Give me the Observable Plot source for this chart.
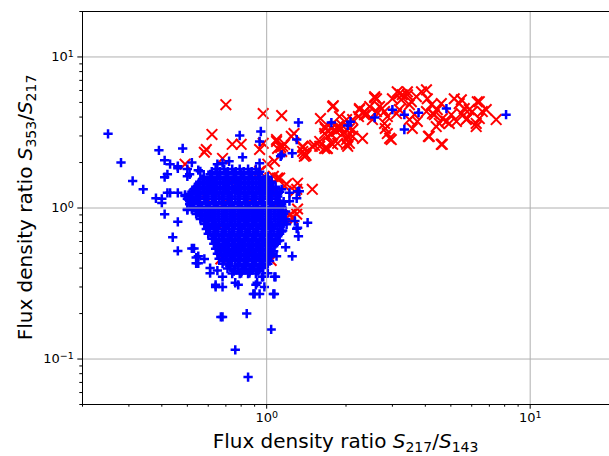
<!DOCTYPE html>
<html><head><meta charset="utf-8">
<script src="https://cdn.jsdelivr.net/npm/d3@7"></script>
<script src="https://cdn.jsdelivr.net/npm/@observablehq/plot@0.6"></script>
<style>body{margin:0;background:#fff;} svg{display:block;}</style>
</head><body><div id="chart"></div>
<script>
// Scattered blue (+) sources: [S217/S143, S353/S217]
const blueScatter = [
[0.25,3.10],[0.28,2.0],[0.31,1.51],[0.34,1.33],[0.38,1.16],[0.40,1.08],[0.41,0.91],[0.44,0.64],[0.46,0.52],[0.46,0.81],
[0.39,2.41],[0.48,2.48],[0.41,2.07],[0.41,1.60],[0.42,1.67],[0.46,1.83],[0.52,2.0],[0.55,1.78],[0.40,1.15],[0.42,1.26],
[0.46,1.26],[0.49,1.22],[0.53,1.13],[0.50,0.97],[0.53,0.54],[0.54,0.47],[0.58,0.46],[0.55,0.43],[0.61,0.40],[0.61,0.37],
[0.68,0.35],[0.64,0.30],[0.68,0.30],[0.76,0.32],[0.68,0.19],[0.84,0.20],[0.76,0.115],[0.85,0.076],[1.04,0.157],[0.91,0.31],
[0.90,0.27],[0.98,0.30],[1.06,0.27],[1.08,0.35],[0.97,0.35],[1.18,0.55],[1.25,0.48],[1.32,0.65],[1.30,0.73],[1.43,0.80],
[1.31,1.29],[1.22,1.26],[1.14,1.33],[1.13,2.20],[1.25,2.30],[1.30,2.84],[1.32,3.68],[0.95,3.21],[0.94,2.76],[0.79,3.02],
[0.81,2.17],[0.68,1.98],[0.43,1.95],[0.46,1.89],[0.50,1.81],[0.51,1.67],[0.43,1.26],[0.49,1.20],[0.51,1.11],[0.52,0.54],
[0.55,0.48],[0.50,0.985],[0.54,0.96],[0.56,0.89],[0.54,0.43],[0.65,0.385],[0.64,0.31],[0.78,0.31],[0.80,0.37],[0.86,0.37],
[0.92,0.32],[0.89,0.27],[0.94,0.27],[1.07,0.27],[1.07,0.35],[0.96,0.35],[0.97,0.40],[1.01,0.37],[1.09,0.48],[0.67,0.19],
[1.30,1.16],[1.31,0.74],[1.12,0.61],[1.15,0.71],[1.19,0.78],[1.28,0.82],[1.22,1.11],[1.33,1.29],[1.14,2.25],[0.94,1.98],
[0.72,2.04],[0.65,1.95],[0.56,1.75],[0.50,1.62],
[1.76,3.68],[2.08,3.73],[2.03,3.52],[2.57,3.97],[3.0,4.48],[3.33,4.15],[3.33,3.31],[3.77,4.28],[4.81,4.55],[8.1,4.15]
];
// Dense blue core, read row by row: [S353/S217, [S217/S143 ...]]
const blueCoreRows = [
[1.81,[0.64,0.69,0.74,0.79,0.85,0.91]],
[1.74,[0.619,0.664,0.712,0.763,0.818,0.877,0.941]],
[1.67,[0.61,0.65,0.70,0.75,0.80,0.86,0.93]],
[1.61,[0.577,0.619,0.664,0.712,0.763,0.818,0.877,0.941,1.009]],
[1.55,[0.57,0.61,0.65,0.70,0.75,0.80,0.86,0.93,0.99]],
[1.49,[0.557,0.598,0.641,0.687,0.737,0.790,0.847,0.909,0.974,1.045]],
[1.44,[0.55,0.59,0.63,0.68,0.72,0.78,0.83,0.89,0.96,1.03]],
[1.38,[0.538,0.577,0.619,0.664,0.712,0.763,0.818,0.877,0.941,1.009,1.082]],
[1.33,[0.53,0.57,0.61,0.65,0.70,0.75,0.80,0.86,0.93,0.99,1.06]],
[1.28,[0.520,0.557,0.598,0.641,0.687,0.737,0.790,0.847,0.909,0.974,1.045,1.120]],
[1.24,[0.51,0.55,0.59,0.63,0.68,0.72,0.78,0.83,0.89,0.96,1.03,1.10]],
[1.19,[0.511,0.548,0.587,0.630,0.675,0.724,0.777,0.833,0.893,0.957,1.026,1.101]],
[1.15,[0.50,0.54,0.58,0.62,0.66,0.71,0.76,0.82,0.88,0.94,1.01,1.08]],
[1.10,[0.520,0.557,0.598,0.641,0.687,0.737,0.790,0.847,0.909,0.974,1.045,1.120,1.160]],
[1.06,[0.51,0.55,0.59,0.63,0.68,0.72,0.78,0.83,0.89,0.96,1.03,1.10,1.14]],
[1.02,[0.529,0.567,0.608,0.652,0.699,0.750,0.804,0.862,0.925,0.991,1.063,1.140]],
[0.985,[0.52,0.56,0.60,0.64,0.69,0.74,0.79,0.85,0.91,0.97,1.04,1.12]],
[0.948,[0.548,0.587,0.630,0.675,0.724,0.777,0.833,0.893,0.957,1.026,1.101,1.180]],
[0.913,[0.54,0.58,0.62,0.66,0.71,0.76,0.82,0.88,0.94,1.01,1.08,1.16]],
[0.879,[0.567,0.608,0.652,0.699,0.750,0.804,0.862,0.925,0.991,1.063,1.140]],
[0.847,[0.56,0.60,0.64,0.69,0.74,0.79,0.85,0.91,0.97,1.04,1.12,1.18]],
[0.815,[0.587,0.630,0.675,0.724,0.777,0.833,0.893,0.957,1.026,1.101,1.180]],
[0.785,[0.58,0.62,0.66,0.71,0.76,0.82,0.88,0.94,1.01,1.08,1.16]],
[0.756,[0.598,0.641,0.687,0.737,0.790,0.847,0.909,0.974,1.045,1.120]],
[0.727,[0.59,0.63,0.68,0.72,0.78,0.83,0.89,0.96,1.03,1.10]],
[0.700,[0.608,0.652,0.699,0.750,0.804,0.862,0.925,0.991,1.063,1.140]],
[0.675,[0.60,0.64,0.69,0.74,0.79,0.85,0.91,0.97,1.04,1.12]],
[0.649,[0.630,0.675,0.724,0.777,0.833,0.893,0.957,1.026,1.101]],
[0.625,[0.62,0.66,0.71,0.76,0.82,0.88,0.94,1.01,1.08]],
[0.602,[0.641,0.687,0.737,0.790,0.847,0.909,0.974,1.045,1.101]],
[0.580,[0.63,0.68,0.72,0.78,0.83,0.89,0.96,1.03,1.08]],
[0.558,[0.652,0.699,0.750,0.804,0.862,0.925,0.991,1.063]],
[0.537,[0.64,0.69,0.74,0.79,0.85,0.91,0.97,1.04]],
[0.518,[0.664,0.712,0.763,0.818,0.877,0.941,1.009,1.063]],
[0.498,[0.65,0.70,0.75,0.80,0.86,0.93,0.99,1.05]],
[0.480,[0.675,0.724,0.777,0.833,0.893,0.957,1.026]],
[0.462,[0.66,0.71,0.76,0.82,0.88,0.94,1.01]],
[0.445,[0.687,0.737,0.790,0.847,0.909,0.974,1.026]],
[0.428,[0.68,0.72,0.78,0.83,0.89,0.96,1.01]],
[0.412,[0.724,0.777,0.833,0.893,0.957]],
[0.397,[0.71,0.76,0.82,0.88,0.94]],
[0.382,[0.750,0.804,0.862,0.925]],
[0.368,[0.74,0.79,0.85,0.91]]
];
// Red (x) sources
const redPoints = [
[0.70,4.83],[0.97,4.22],[1.14,4.09],[0.62,3.07],[0.59,2.44],[0.58,2.34],[0.74,2.64],[0.80,2.64],[0.97,2.68],[1.09,2.84],
[1.13,2.52],[1.17,2.64],[1.27,3.11],[1.37,2.52],[1.41,2.23],[1.52,2.60],[1.60,3.91],[1.79,4.76],[1.69,2.48],[1.67,3.36],
[1.76,3.07],[1.86,2.68],[1.92,3.36],[2.01,2.64],[2.03,2.98],[2.12,3.31],[2.23,4.03],[2.35,4.35],[2.52,3.85],[2.31,2.89],
[2.57,5.37],[2.74,4.55],[2.93,2.89],[2.82,3.36],[3.19,5.71],[3.42,5.88],[3.54,5.06],[4.04,6.06],[4.11,2.98],[4.64,2.64],
[6.41,5.06],[7.43,3.85],
[1.01,1.95],[1.06,1.62],[1.12,1.58],[1.19,1.44],[1.28,1.29],[1.49,1.33],[1.23,0.91],[1.19,0.86],[1.30,0.91],[1.25,0.86],
[1.31,0.985],[0.67,0.46],[1.04,0.45],[0.49,1.95],[0.68,2.13],[0.94,2.44],[0.94,1.75],[1.03,1.58],[1.39,2.30],[1.15,2.56],
[1.30,1.33],[1.09,2.76],[1.37,2.56],[1.39,2.20],[1.49,2.56],[1.59,2.76],[1.66,2.48],[1.70,2.98],[1.76,3.36],[1.84,3.21],
[1.92,3.57],[1.89,4.03],[2.01,3.85],[2.06,3.36],[2.01,2.84],[2.12,2.98],[2.25,4.55],[2.39,4.15],[2.46,4.69],[2.61,4.35],
[2.68,4.69],[2.57,5.46],[2.80,3.63],[2.87,3.11],[2.97,2.84],[2.80,4.35],[3.11,4.22],[3.00,5.29],[3.13,5.88],[3.27,5.62],
[3.42,5.62],[3.48,4.83],[3.70,5.46],[3.64,4.15],[3.73,3.74],[3.87,5.88],[4.07,5.29],[4.22,4.83],[4.04,4.35],[4.14,2.98],
[4.33,4.15],[4.44,4.48],[4.60,4.91],[4.64,3.91],[4.60,2.64],[4.81,3.74],[5.02,4.15],[5.15,5.29],[5.38,4.91],[5.62,4.55],
[5.77,3.91],[6.03,4.35],[6.30,5.05],[6.41,3.91],[6.58,4.35],[6.24,3.63],[5.25,3.74],[5.48,4.22],[1.24,2.98],[1.10,2.48],
[1.14,2.37],[1.37,2.37],[1.59,2.56],[1.70,2.48],[1.66,3.11],[1.76,2.68],[1.86,3.36],[2.03,2.56],[1.07,2.04],[1.10,1.58],
[1.17,1.40],[1.31,1.46],[5.48,5.21],[5.87,4.48],[6.81,4.48],[4.40,3.46],[4.52,3.63],[4.93,3.63],[5.72,3.85],[6.24,3.46],
[3.48,3.85],[3.19,4.48],[3.57,3.36],[4.26,4.22],[1.78,4.69],[1.66,3.46],[1.86,3.46],[1.94,3.11],[2.12,3.85],[2.25,4.48],
[2.35,4.15],[2.87,4.03],[2.06,2.68],[1.78,2.64],[2.61,5.29],[3.24,5.21],
[0.62,1.30],[0.70,1.10],[0.80,0.95],[0.66,0.75],[0.90,1.20],[0.75,0.60],[0.85,0.70],[0.95,1.40],[0.60,0.90],[0.72,1.50],
[0.88,0.50],[1.00,0.80],[0.68,0.55],[0.58,1.20],[1.08,1.05],[1.12,0.95],[1.05,1.25]
];
const xMajorTicks = [1, 10];
const xMinorTicks = [0.2,0.3,0.4,0.5,0.6,0.7,0.8,0.9,2,3,4,5,6,7,8,9,20];
const yMajorTicks = [0.1, 1, 10];
const yMinorTicks = [0.05,0.06,0.07,0.08,0.09,0.2,0.3,0.4,0.5,0.6,0.7,0.8,0.9,2,3,4,5,6,7,8,9,20];

const blue = blueScatter.concat(blueCoreRows.flatMap(([y, xs]) => xs.map(x => [x, y])));
const expFmt = v => "10^" + Math.round(Math.log10(v));

const plot = Plot.plot({
  width: 609, height: 456,
  marginLeft: 82, marginRight: 0, marginTop: 11, marginBottom: 52,
  style: {fontFamily: "DejaVu Sans", fontSize: "13px", background: "#fff", color: "black"},
  x: {type: "log", domain: [0.2, 20]},
  y: {type: "log", domain: [0.05, 20]},
  marks: [
    Plot.dot(redPoints, {x: d => d[0], y: d => d[1], symbol: "times", r: 4.9, stroke: "#ff0000", strokeWidth: 2}),
    Plot.dot(blue, {x: d => d[0], y: d => d[1], symbol: "plus", r: 3.1, stroke: "#0000ff", strokeWidth: 2.5}),
    Plot.gridX(xMajorTicks, {stroke: "#b0b0b0", strokeOpacity: 1, strokeWidth: 1}),
    Plot.gridY(yMajorTicks, {stroke: "#b0b0b0", strokeOpacity: 1, strokeWidth: 1}),
    Plot.ruleX([0.2], {stroke: "black", strokeWidth: 1}),
    Plot.ruleY([0.05, 20], {stroke: "black", strokeWidth: 1}),
    Plot.axisX(xMajorTicks, {tickSize: 4.7, tickPadding: 3.5, tickFormat: expFmt, label: null, stroke: "black", fontSize: 13}),
    Plot.axisX(xMinorTicks, {tickSize: 2.7, tickFormat: () => "", label: null, stroke: "black"}),
    Plot.axisY(yMajorTicks, {tickSize: 4.7, tickPadding: 4, tickFormat: expFmt, label: null, stroke: "black", fontSize: 13}),
    Plot.axisY(yMinorTicks, {tickSize: 2.7, tickFormat: () => "", label: null, stroke: "black"})
  ]
});
document.getElementById("chart").append(plot);

const svg = d3.select(plot);
// turn "10^k" tick labels into 10 with a superscript
svg.selectAll("text").each(function() {
  const t = this.textContent;
  if (!t.startsWith("10^")) return;
  const e = t.slice(3).replace("-", "\u2212");
  const el = d3.select(this);
  el.text(null);
  el.append("tspan").text("10");
  el.append("tspan").attr("dy", "-0.45em").style("font-size", "9.5px").text(e);
});

function axisLabel(g, num, den) {
  g.append("tspan").text("Flux density ratio ");
  g.append("tspan").style("font-style", "italic").text("S");
  g.append("tspan").attr("dy", 3.5).style("font-size", "14px").text(num);
  g.append("tspan").attr("dy", -3.5).text("/");
  g.append("tspan").style("font-style", "italic").text("S");
  g.append("tspan").attr("dy", 3.5).style("font-size", "14px").text(den);
}
const xl = svg.append("text").attr("x", 345.5).attr("y", 448).attr("text-anchor", "middle")
  .style("font-family", "DejaVu Sans").style("font-size", "20px").attr("fill", "black");
axisLabel(xl, "217", "143");
const yl = svg.append("text").attr("transform", "translate(32,207.5) rotate(-90)").attr("text-anchor", "middle")
  .style("font-family", "DejaVu Sans").style("font-size", "20px").attr("fill", "black");
axisLabel(yl, "353", "217");
</script>
</body></html>
